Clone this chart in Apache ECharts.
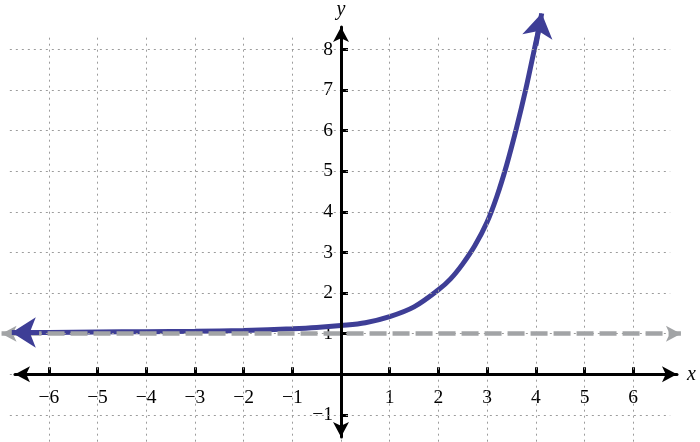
<!DOCTYPE html>
<html>
<head>
<meta charset="utf-8">
<script src="https://cdn.jsdelivr.net/npm/echarts@6/dist/echarts.min.js"></script>
<style>
html,body{margin:0;padding:0;background:#fff;}
#chart{width:700px;height:442px;}
</style>
</head>
<body>
<div id="chart"></div>
<script>
// ---- data ----
const xTickValues = [-6, -5, -4, -3, -2, -1, 1, 2, 3, 4, 5, 6];
const yTickValues = [-1, 1, 2, 3, 4, 5, 6, 7, 8];
const gridXValues = [-6, -5, -4, -3, -2, -1, 0, 1, 2, 3, 4, 5, 6];
const gridYValues = [-1, 0, 1, 2, 3, 4, 5, 6, 7, 8];
const gridExtentX = [-6.8, 6.76];
const gridExtentY = [-1.66, 8.33];
const curveX = [-6.76, -6, -5, -4, -3, -2, -1, -0.5, 0, 0.5, 1, 1.5, 2, 2.25, 2.5, 2.75, 3, 3.2, 3.4, 3.6, 3.8, 3.97, 4.06];
const curveY = [1.03, 1.03, 1.04, 1.05, 1.06, 1.08, 1.12, 1.15, 1.2, 1.27, 1.42, 1.66, 2.08, 2.35, 2.72, 3.17, 3.75, 4.38, 5.15, 6.05, 7.05, 8.0, 8.5];
const curveLeftTip = [-6.76, 1.03];
const curveLeftFrom = [-6.2, 1.03];
const curveTopTip = [4.121, 8.89];
const curveTopFrom = [4.0, 8.1];
const asymptoteY = 1;
const asymptoteX = [-6.97, 6.98];
const axisNames = ['x', 'y'];

// ---- layout (pixels per unit, origin) ----
const W = 700, H = 442;
const PX0 = 341, UX = 48.7, PY0 = 374.3, UY = 40.6;
function gridFor(xmin, xmax, ymin, ymax) {
  return {
    left: PX0 + xmin * UX,
    right: W - (PX0 + xmax * UX),
    top: PY0 - ymax * UY,
    bottom: H - (PY0 - ymin * UY),
    containLabel: false,
    outerBoundsMode: 'none'
  };
}
const minus = s => String(s).replace('-', '\u2212');
const serif = 'Liberation Serif';
const gridColor = '#9c9c9c';
const blue = '#3e3e96';
const gray = '#a2a4a6';

const GD = [-7, 7, -1.66, 9];                // data + grid lines
const GB = [-6.694, 6.899, -1.544, 8.554];   // black axes with arrows
const GX = [-7, 7, 0, 9];                    // x ticks / labels (bottom edge at y = 0)
const GY = [0, 7, -1.66, 9];                 // y ticks / labels (left edge at x = 0)

const gridLineData = []
  .concat(gridXValues.map(x => [{ coord: [x, gridExtentY[0]] }, { coord: [x, gridExtentY[1]] }]))
  .concat(gridYValues.map(y => [{ coord: [gridExtentX[0], y] }, { coord: [gridExtentX[1], y] }]));

const hidden = (gi, a, b) => ({ type: 'value', gridIndex: gi, min: a, max: b, show: false, axisLine: { onZero: false } });
const tickStyle = { color: '#000', width: 3 };
const labelFont = { color: '#000', fontFamily: serif, fontSize: 19.5 };

const option = {
  animation: false,
  grid: [gridFor(...GD), gridFor(...GB), gridFor(...GX), gridFor(...GY)],
  xAxis: [
    hidden(0, GD[0], GD[1]),
    {
      type: 'value', gridIndex: 1, min: GB[0], max: GB[1], z: 5,
      name: axisNames[0], nameLocation: 'end', nameGap: 10,
      nameTextStyle: { fontFamily: serif, fontStyle: 'italic', fontSize: 20, color: '#000', verticalAlign: 'middle' },
      axisLine: { show: true, onZero: true, symbol: ['arrow', 'arrow'], symbolSize: [12, 15], lineStyle: { color: '#000', width: 3 } },
      axisTick: { show: false }, axisLabel: { show: false }, splitLine: { show: false }
    },
    {
      type: 'value', gridIndex: 2, min: GX[0], max: GX[1], position: 'bottom',
      axisLine: { show: false, onZero: false },
      axisTick: { show: true, inside: true, length: 7, customValues: xTickValues, lineStyle: tickStyle },
      axisLabel: Object.assign({ show: true, margin: 14, customValues: xTickValues, formatter: v => minus(v) }, labelFont),
      splitLine: { show: false }
    },
    hidden(3, GY[0], GY[1])
  ],
  yAxis: [
    hidden(0, GD[2], GD[3]),
    {
      type: 'value', gridIndex: 1, min: GB[2], max: GB[3], z: 5,
      name: axisNames[1], nameLocation: 'end', nameGap: 7,
      nameTextStyle: { fontFamily: serif, fontStyle: 'italic', fontSize: 20, color: '#000' },
      axisLine: { show: true, onZero: true, symbol: ['arrow', 'arrow'], symbolSize: [12, 15], lineStyle: { color: '#000', width: 3 } },
      axisTick: { show: false }, axisLabel: { show: false }, splitLine: { show: false }
    },
    hidden(2, GX[2], GX[3]),
    {
      type: 'value', gridIndex: 3, min: GY[2], max: GY[3], position: 'left',
      axisLine: { show: false, onZero: false },
      axisTick: { show: true, inside: true, length: 7, customValues: yTickValues, lineStyle: tickStyle },
      axisLabel: Object.assign({ show: true, margin: 8, padding: [4, 0, 0, 0], customValues: yTickValues, formatter: v => minus(v) }, labelFont),
      splitLine: { show: false }
    }
  ],
  series: [
    {
      type: 'line', xAxisIndex: 0, yAxisIndex: 0, data: [], z: 0, silent: true,
      markLine: {
        silent: true, animation: false, symbol: ['none', 'none'],
        label: { show: false },
        lineStyle: { color: gridColor, width: 1, type: [2, 4] },
        emphasis: { disabled: true },
        data: gridLineData
      }
    },
    {
      type: 'line', xAxisIndex: 0, yAxisIndex: 0, data: [], z: 1, silent: true,
      markLine: {
        silent: true, animation: false,
        symbol: ['arrow', 'arrow'], symbolSize: [12, 15],
        label: { show: false },
        lineStyle: { color: gray, width: 4.5, type: [17, 6] },
        emphasis: { disabled: true },
        data: [[{ coord: [asymptoteX[0], asymptoteY] }, { coord: [asymptoteX[1], asymptoteY] }]]
      }
    },
    {
      type: 'line', xAxisIndex: 0, yAxisIndex: 0, z: 2, silent: true,
      data: curveX.map((x, i) => [x, curveY[i]]),
      smooth: 0.35, showSymbol: false, symbol: 'none', clip: false,
      lineStyle: { color: blue, width: 5 },
      markLine: {
        silent: true, animation: false,
        symbol: ['none', 'arrow'], symbolSize: [23, 24],
        label: { show: false },
        lineStyle: { color: blue, width: 5, type: 'solid' },
        emphasis: { disabled: true },
        data: [
          [{ coord: curveLeftFrom }, { coord: curveLeftTip }],
          [{ coord: curveTopFrom }, { coord: curveTopTip }]
        ]
      }
    }
  ]
};

const chart = echarts.init(document.getElementById('chart'), null, { renderer: 'canvas' });
chart.setOption(option);
</script>
</body>
</html>
